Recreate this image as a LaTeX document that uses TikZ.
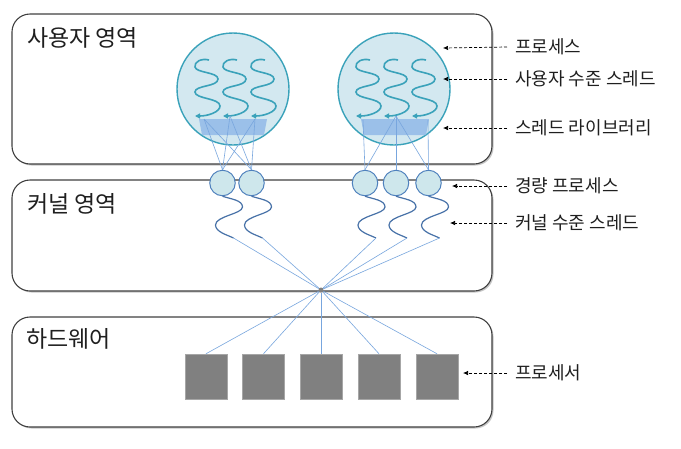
\documentclass[tikz,border=0pt]{standalone}
\usepackage{fontspec}
\setmainfont{Noto Sans CJK KR}
\usetikzlibrary{arrows.meta,shadows}
\definecolor{procfill}{RGB}{211,232,240}
\definecolor{procline}{RGB}{58,162,186}
\definecolor{libfill}{RGB}{146,186,232}
\definecolor{lwpfill}{RGB}{206,231,236}
\definecolor{lwpline}{RGB}{79,129,189}
\definecolor{kline}{RGB}{72,114,168}
\definecolor{linkcol}{RGB}{120,166,222}
\begin{document}
\begin{tikzpicture}[x=1pt,y=-1pt,
	area/.style={draw=black!75, line width=1.1pt, rounded corners=18pt, fill=white,
		drop shadow={shadow xshift=1.5pt, shadow yshift=-1.5pt, fill=black!45}},
	head/.style={anchor=west, inner sep=0pt, text=black!88, font=\fontsize{23}{27}\selectfont},
	proc/.style={circle, draw=procline, line width=1.4pt, fill=procfill, minimum size=112pt},
	uthread/.style={draw=procline, line width=1.6pt, -{Triangle[length=5pt,width=5pt]}},
	lib/.style={fill=libfill, fill opacity=0.85},
	lwp/.style={circle, draw=lwpline, line width=1pt, fill=lwpfill, minimum size=25.5pt, inner sep=0pt},
	kthread/.style={draw=kline, line width=1.2pt},
	link/.style={draw=linkcol, line width=0.6pt},
	cpu/.style={draw=black!35, line width=0.5pt, fill=black!50, minimum width=42pt, minimum height=45pt, inner sep=0pt},
	lbl/.style={anchor=west, inner sep=0pt, text=black!88, font=\fontsize{18}{21}\selectfont},
	pointer/.style={densely dashed, line width=0.7pt, -{Latex[length=5pt,width=4.5pt]}}]
\useasboundingbox (0,0) rectangle (681,448);
	%Areas
\node[area, minimum width=480pt, minimum height=150pt] (user) at (252,89) {}; %User area
\node[area, minimum width=480pt, minimum height=111pt] (kernel) at (252,235.5) {}; %Kernel area
\node[area, minimum width=480pt, minimum height=110pt] (hw) at (252,372) {}; %Hardware
\node[head] (userlbl) at (27,38) {사용자 영역};
\node[head] (kernellbl) at (27,204) {커널 영역};
\node[head] (hwlbl) at (26,339) {하드웨어};
	%Processes
\node[proc] (p1) at (233,89) {};
\node[proc] (p2) at (394,89) {};
\foreach \tx in {194,222,250,355,383,411} %User level threads
	\draw[uthread, shift={(\tx,0)}] (15,60) .. controls (7,58) and (0,62) .. (1,67)
		.. controls (2,73) and (24,72) .. (24,79)
		.. controls (24,87) and (1,85) .. (1,92)
		.. controls (1,99) and (26,98) .. (26,106)
		.. controls (26,112) and (14,116) .. (1,116);
\fill[lib] (199,119) -- (267,119) -- (264,135) -- (202,135) -- cycle; %Thread library
\fill[lib] (361,119) -- (429,119) -- (426,135) -- (364,135) -- cycle;
\coordinate (u1a) at (204,119);
\coordinate (u1b) at (230,116);
\coordinate (u1c) at (255,119);
\coordinate (u2a) at (363,120);
\coordinate (u2b) at (396,116);
\coordinate (u2c) at (428,120);
	%Light weight processes
\foreach \i/\cx in {1/222.5,2/251.5,3/365,4/396,5/428.5}
	\node[lwp] (l\i) at (\cx,183) {};
\foreach \a in {u1a,u1b,u1c}
	\foreach \b in {l1,l2}
		\draw[link] (\a) -- (\b.north);
\draw[link] (u2a) -- (l3.north);
\foreach \b in {l3,l4,l5}
	\draw[link] (u2b) -- (\b.north);
\draw[link] (u2c) -- (l5.north);
	%Kernel level threads
\foreach \i/\cx in {1/222.5,2/251.5,3/365,4/396,5/428.5}
	\draw[kthread] (l\i.south) .. controls (\cx+8,199) and (\cx+20,200) .. (\cx+20,207)
		.. controls (\cx+20,214) and (\cx-7,216) .. (\cx-7,225)
		.. controls (\cx-7,232) and (\cx+5,235) .. (\cx+11,238) coordinate (k\i);
\node[circle, fill=black!50, minimum size=5pt, inner sep=0pt] (hub) at (321,290) {};
\foreach \i in {1,...,5}
	\draw[link] (k\i) -- (hub);
	%Processors
\foreach \i/\cx in {1/206,2/263.5,3/321,4/379,5/437}
	\node[cpu] (c\i) at (\cx,376.5) {};
\foreach \i in {1,...,5}
	\draw[link] (hub) -- (c\i.north);
	%Labels
\node[lbl] (lproc) at (515,47) {프로세스};
\node[lbl] (luth) at (515,79) {사용자 수준 스레드};
\node[lbl] (llib) at (515,128) {스레드 라이브러리};
\node[lbl] (llwp) at (515,186) {경량 프로세스};
\node[lbl] (lkth) at (515,223) {커널 수준 스레드};
\node[lbl] (lcpu) at (515,373) {프로세서};
\coordinate (aproc) at (443,48);
\coordinate (auth) at (443,79);
\coordinate (alib) at (443,128);
\coordinate (alwp) at (452,186);
\coordinate (akth) at (450,223);
\coordinate (acpu) at (463,373);
\draw[pointer] ([xshift=-8pt]lproc.west) -- (aproc);
\draw[pointer] ([xshift=-8pt]luth.west) -- (auth);
\draw[pointer] ([xshift=-8pt]llib.west) -- (alib);
\draw[pointer] ([xshift=-8pt]llwp.west) -- (alwp);
\draw[pointer] ([xshift=-8pt]lkth.west) -- (akth);
\draw[pointer] ([xshift=-8pt]lcpu.west) -- (acpu);
\end{tikzpicture}
\end{document}
